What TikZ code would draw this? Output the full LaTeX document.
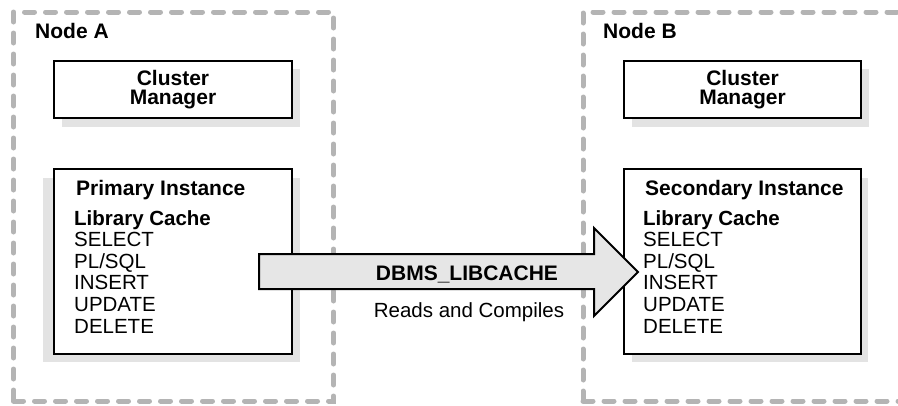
\documentclass[tikz,border=0pt]{standalone}
\usepackage{fontspec}
\setmainfont{Liberation Sans}
\definecolor{dashgray}{HTML}{B4B4B4}
\definecolor{shadowgray}{HTML}{E3E3E3}
\definecolor{arrowgray}{HTML}{E6E6E6}
\tikzset{
  nodebox/.style={draw=dashgray, line width=5pt, line cap=round, dash pattern=on 10pt off 11pt, rectangle, inner sep=0pt},
  bluebox/.style={draw=black, line width=2pt, fill=white, rectangle, inner sep=0pt},
  shadowbox/.style={fill=shadowgray, draw=none, rectangle, inner sep=0pt},
  lbl/.style={font=\fontsize{21}{19}\selectfont\bfseries, inner sep=0pt},
  cmtext/.style={font=\fontsize{21}{19}\selectfont\bfseries, align=center, inner sep=0pt},
  listtext/.style={font=\fontsize{20.5}{21.6}\selectfont, align=left, inner sep=0pt, anchor=base west},
  bigarrow/.style={draw=black, line width=2pt, fill=arrowgray, line join=miter}
}
\begin{document}
\begin{tikzpicture}[x=1pt,y=-1pt]
\useasboundingbox (0,0) rectangle (898,405);
% node containers
\node[nodebox, minimum width=320pt, minimum height=389pt] (nodeA) at (173.5,206.5) {};
\node[nodebox, minimum width=330pt, minimum height=389pt] (nodeB) at (748,206.5) {};
\node[lbl, anchor=base west] (labA) at (35,38) {Node A};
\node[lbl, anchor=base west] (labB) at (603,38) {Node B};
% shadows
\node[shadowbox, minimum width=238pt, minimum height=58pt] (cmAs) at (181,98) {};
\node[shadowbox, minimum width=237pt, minimum height=58pt] (cmBs) at (750.5,98) {};
\node[shadowbox, minimum width=257pt, minimum height=184pt] (piS) at (171.5,270) {};
\node[shadowbox, minimum width=236pt, minimum height=184pt] (siS) at (750,270) {};
% cluster managers
\node[bluebox, minimum width=238pt, minimum height=57pt] (cmA) at (173,89.5) {};
\node[cmtext] (cmAt) at (cmA.center) {Cluster\\Manager};
\node[bluebox, minimum width=237pt, minimum height=57pt] (cmB) at (742.5,89.5) {};
\node[cmtext] (cmBt) at (cmB.center) {Cluster\\Manager};
% instances
\node[bluebox, minimum width=238pt, minimum height=185pt] (pi) at (173,261.5) {};
\node[bluebox, minimum width=237pt, minimum height=185pt] (si) at (742.5,261.5) {};
\node[lbl, anchor=base west] (piT) at (76,195) {Primary Instance};
\node[lbl, anchor=base west] (siT) at (645,195) {Secondary Instance};
\node[listtext] (piL) at (74,333) {\textbf{Library Cache}\\SELECT\\PL/SQL\\INSERT\\UPDATE\\DELETE};
\node[listtext] (siL) at (643,333) {\textbf{Library Cache}\\SELECT\\PL/SQL\\INSERT\\UPDATE\\DELETE};
% big arrow
\coordinate (aS) at (259,271.5);
\coordinate (aE) at (638,272);
\draw[bigarrow] (aS |- 0,254) -- (594,254) -- (594,228) -- (aE) -- (594,316) -- (594,289) -- (aS |- 0,289) -- cycle;
\node[lbl, anchor=base] (dbms) at (467,280) {DBMS\_LIBCACHE};
\node[font=\fontsize{20.5}{21.6}\selectfont, inner sep=0pt, anchor=base] (rac) at (469,317) {Reads and Compiles};
\end{tikzpicture}
\end{document}
